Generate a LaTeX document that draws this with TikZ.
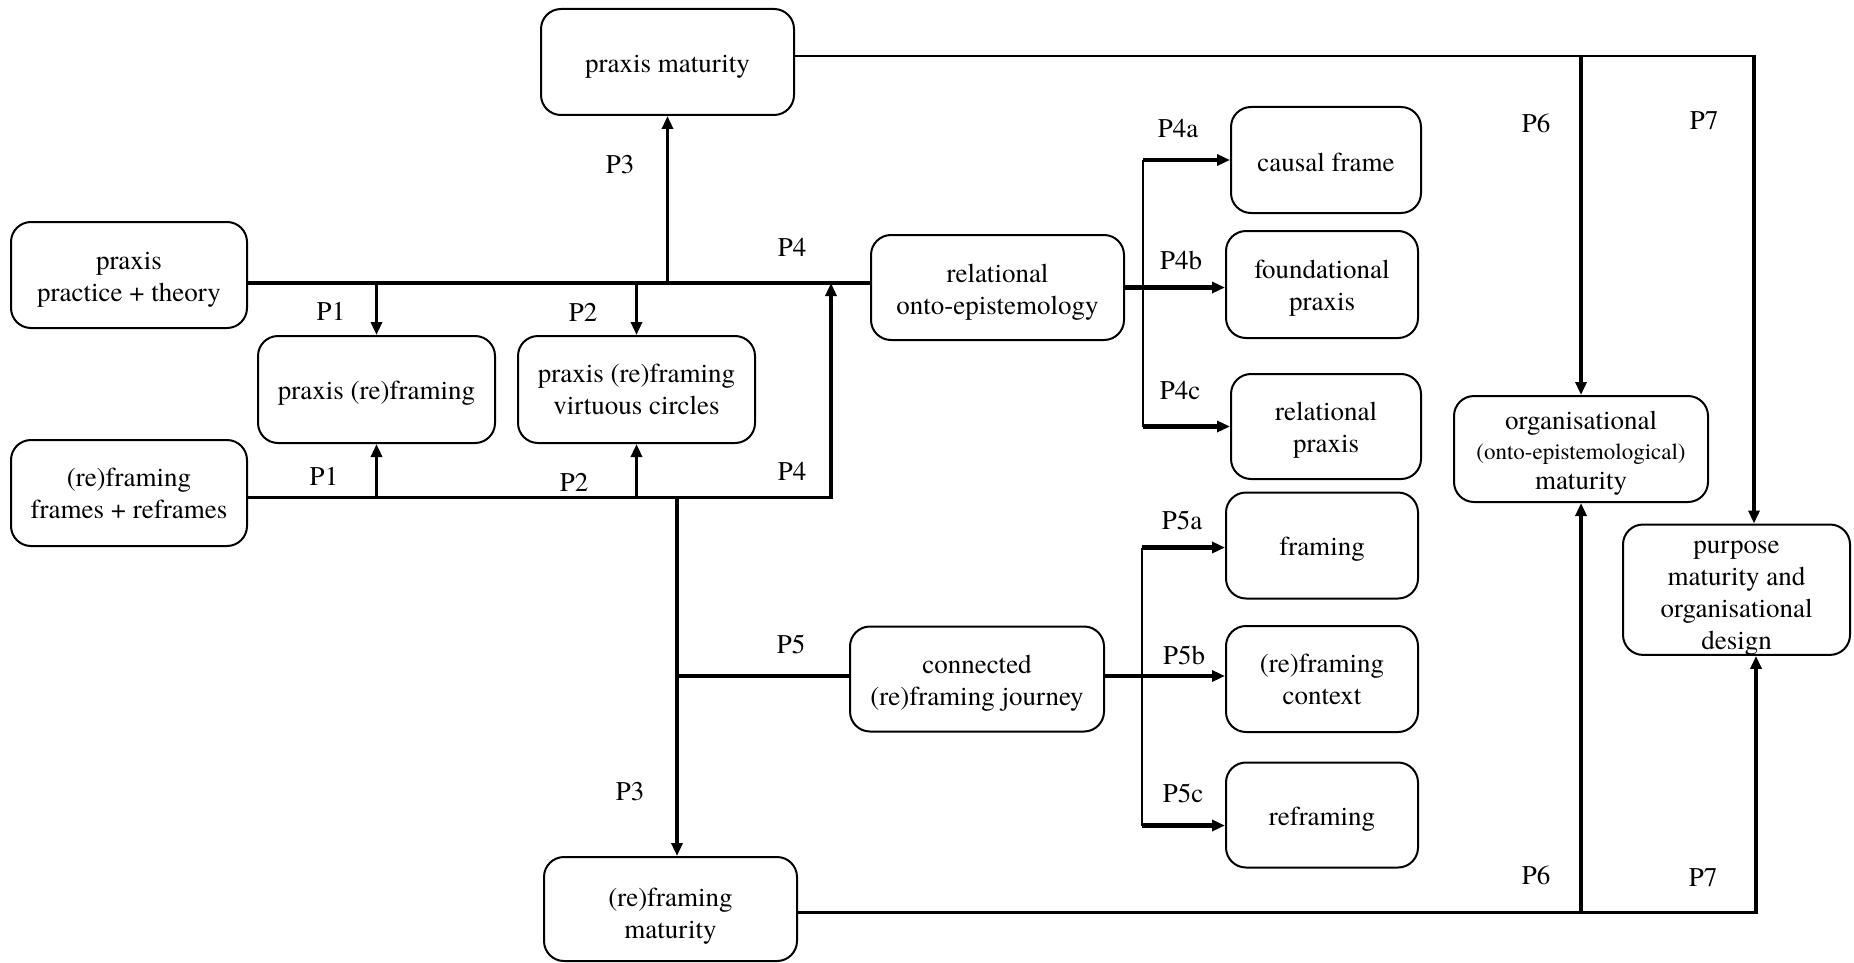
\documentclass[tikz,border=0pt]{standalone}
\usepackage{fontspec}
\setmainfont{TeX Gyre Termes}
\usetikzlibrary{arrows.meta}
% invisible strut that lowers the text of a box by #1 pt
\newcommand{\dropby}[1]{\rule{0pt}{\dimexpr18.5pt+#1pt*2\relax}}
\begin{document}
\begin{tikzpicture}[x=1pt,y=-1pt,
  box/.style={draw, line width=2pt, rounded corners=20pt, inner sep=0pt, align=center,
              font=\fontsize{27}{32}\selectfont},
  lbl/.style={font=\fontsize{27}{32}\selectfont, inner sep=0pt},
  hline/.style={line width=2.2pt},
  vline/.style={line width=3.5pt},
  bus/.style={line width=3.5pt},
  heavy/.style={line width=4.5pt},
  slim/.style={line width=2.3pt},
  tip/.style={-{Triangle[length=13pt,width=11pt]}},
]
\useasboundingbox (0,0) rectangle (1854,963);

% boxes
\node[box, minimum width=253pt, minimum height=106pt] (pm)  at (667.5,62)  {\dropby{4}praxis maturity};
\node[box, minimum width=236pt, minimum height=106pt] (ppt) at (129,275)   {\dropby{4}praxis\\practice + theory};
\node[box, minimum width=237pt, minimum height=107pt] (prf) at (376.5,389.5) {\dropby{4}praxis (re)framing};
\node[box, minimum width=237pt, minimum height=107pt] (pvc) at (636.5,389.5) {praxis (re)framing\\virtuous circles};
\node[box, minimum width=236pt, minimum height=106pt] (rff) at (129,493)   {(re)framing\\frames + reframes};
\node[box, minimum width=253pt, minimum height=105pt] (roe) at (997.5,287.5) {\dropby{4.5}relational\\onto-epistemology};
\node[box, minimum width=190pt, minimum height=106pt] (cf)  at (1326,160)  {\dropby{2}causal frame};
\node[box, minimum width=192pt, minimum height=107pt] (fp)  at (1322,284.5) {\dropby{4}foundational\\praxis};
\node[box, minimum width=190pt, minimum height=105pt] (rp)  at (1326,426.5) {\dropby{3.5}relational\\praxis};
\node[box, minimum width=192pt, minimum height=106pt] (fr)  at (1322,545.5) {\dropby{4}framing};
\node[box, minimum width=192pt, minimum height=106pt] (rfc) at (1322,679)  {(re)framing\\context};
\node[box, minimum width=192pt, minimum height=105pt] (ref) at (1322,815)  {\dropby{4}reframing};
\node[box, minimum width=254pt, minimum height=105pt] (crj) at (977,679)   {\dropby{4.5}connected\\(re)framing journey};
\node[box, minimum width=253pt, minimum height=104pt] (rfm) at (670.5,909) {\dropby{7}(re)framing\\maturity};
\node[box, minimum width=254pt, minimum height=106pt, font=\fontsize{27}{30}\selectfont] (org) at (1581,449)
  {\dropby{4}organisational\\{\fontsize{23}{30}\selectfont (onto-epistemological)}\\maturity};
\node[box, minimum width=227pt, minimum height=127pt] (pur) at (1736.5,589.7)
  {\dropby{5}purpose\\maturity and\\organisational\\design};

% junction points
\coordinate (busA) at (0,283);
\coordinate (busB) at (0,497.5);
\coordinate (p4j) at (831,497.5);
\coordinate (p3j) at (677,497.5);
\coordinate (p5j) at (677,676);
\coordinate (b4) at (1143,0);
\coordinate (a5a) at (1142,547.5);
\coordinate (a5c) at (1142,825.5);
\coordinate (topR) at (1754,56);
\coordinate (botR) at (1756,912.5);

% upper bus and its branches
\draw[bus] (ppt.east |- busA) -- (roe.west |- busA);
\draw[vline,tip] (pm.south |- busA) -- (pm.south);
\draw[vline,tip] (prf.north |- busA) -- (prf.north);
\draw[vline,tip] (pvc.north |- busA) -- (pvc.north);

% lower bus and its branches
\draw[hline] (rff.east |- busB) -- (p4j);
\draw[vline,tip] ([yshift=-1pt]p4j) -- (p4j |- busA);
\draw[vline,tip] (prf.south |- busB) -- (prf.south);
\draw[vline,tip] (pvc.south |- busB) -- (pvc.south);
\draw[vline,tip] (p3j) -- (p3j |- rfm.north);
\draw[bus] (p5j) -- (p5j -| crj.west);

% P4 fan-out
\draw[heavy,tip] (roe.east) -- (roe.east -| fp.west);
\draw[slim] (b4 |- cf.west) -- (b4 |- rp.west);
\draw[heavy,tip] (b4 |- cf.west) -- (cf.west);
\draw[heavy,tip] (b4 |- rp.west) -- (rp.west);

% P5 fan-out
\draw[heavy,tip] (p5j -| crj.east) -- (p5j -| rfc.west);
\draw[slim] (a5a) -- (a5c);
\draw[heavy,tip] (a5a) -- (a5a -| fr.west);
\draw[heavy,tip] (a5c) -- (a5c -| ref.west);

% P6 / P7 from the top
\draw[hline] (pm.east |- topR) -- (topR);
\draw[vline,tip] ([yshift=1pt]topR) -- (topR |- pur.north);
\draw[vline,tip] ([yshift=1pt]org.north |- topR) -- (org.north);

% P6 / P7 from the bottom
\draw[hline] (rfm.east |- botR) -- (botR);
\draw[vline,tip] ([yshift=-1pt]botR) -- (botR |- pur.south);
\draw[vline,tip] ([yshift=-1pt]org.south |- botR) -- (org.south);

% labels
\node[lbl] (l3a) at (620,165) {P3};
\node[lbl] (l4a) at (792,247) {P4};
\node[lbl] (l1a) at (331,311) {P1};
\node[lbl] (l2a) at (583,312) {P2};
\node[lbl] (l1b) at (324,476) {P1};
\node[lbl] (l2b) at (574,482) {P2};
\node[lbl] (l4b) at (792,471) {P4};
\node[lbl] (l5)  at (791,644) {P5};
\node[lbl] (l3b) at (630,792) {P3};
\node[lbl] (l4x) at (1178,129) {P4a};
\node[lbl] (l4y) at (1181,260) {P4b};
\node[lbl] (l4z) at (1180,391) {P4c};
\node[lbl] (l5x) at (1182,520) {P5a};
\node[lbl] (l5y) at (1184,655) {P5b};
\node[lbl] (l5z) at (1183,793) {P5c};
\node[lbl] (l6a) at (1536,123) {P6};
\node[lbl] (l7a) at (1704,121) {P7};
\node[lbl] (l6b) at (1536,875) {P6};
\node[lbl] (l7b) at (1703,878) {P7};
\end{tikzpicture}
\end{document}
